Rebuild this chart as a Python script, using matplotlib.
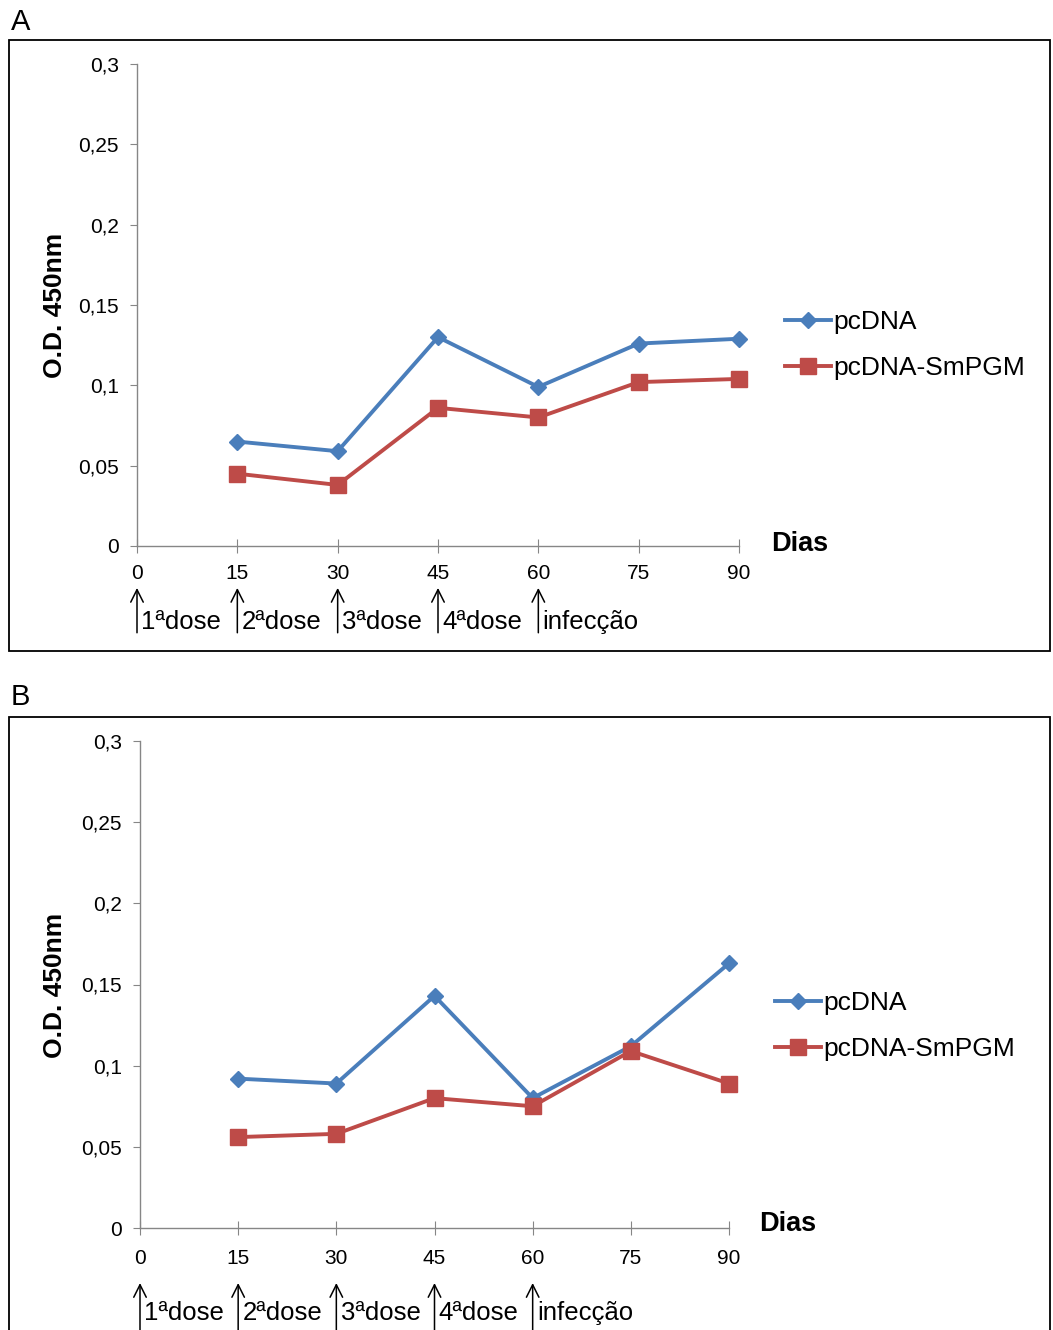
import matplotlib
matplotlib.use("Agg")
import matplotlib.pyplot as plt
from matplotlib.patches import Rectangle

plt.rcParams["font.family"] = ["Liberation Sans", "DejaVu Sans"]

dias = [15, 30, 45, 60, 75, 90]
x_ticks = [0, 15, 30, 45, 60, 75, 90]
y_ticks = [0, 0.05, 0.1, 0.15, 0.2, 0.25, 0.3]
y_tick_labels = ["0", "0,05", "0,1", "0,15", "0,2", "0,25", "0,3"]

# painel A
a_pcdna = [0.065, 0.059, 0.130, 0.099, 0.126, 0.129]
a_smpgm = [0.045, 0.038, 0.086, 0.080, 0.102, 0.104]
# painel B
b_pcdna = [0.092, 0.089, 0.143, 0.080, 0.112, 0.163]
b_smpgm = [0.056, 0.058, 0.080, 0.075, 0.109, 0.089]

event_days = [0, 15, 30, 45, 60]
event_labels = ["1ªdose", "2ªdose", "3ªdose", "4ªdose", "infecção"]

blue = "#4a7ebb"
red = "#be4b48"
gray = "#868686"

W, H = 1053, 1330
fig = plt.figure(figsize=(W / 100, H / 100), dpi=100)


def px(x, y):
    # pixel (from top-left) -> figure fraction
    return x / W, 1 - y / H


def panel(rect, pcdna, smpgm, letter, letter_xy, box, ylab_xy, dias_xy,
          leg_xy, arrow_top, arrow_bot, text_y, tick_pad):
    ax = fig.add_axes(rect)
    ax.plot(dias, pcdna, color=blue, lw=2.8, marker="D", ms=8.5,
            label="pcDNA", clip_on=False)
    ax.plot(dias, smpgm, color=red, lw=2.8, marker="s", ms=12,
            label="pcDNA-SmPGM", clip_on=False)
    ax.set_xlim(0, 90)
    ax.set_ylim(0, 0.3)
    ax.set_xticks(x_ticks)
    ax.set_yticks(y_ticks)
    ax.set_yticklabels(y_tick_labels)
    for s in ["top", "right"]:
        ax.spines[s].set_visible(False)
    for s in ["left", "bottom"]:
        ax.spines[s].set_color(gray)
        ax.spines[s].set_linewidth(1)
    ax.tick_params(axis="x", direction="inout", length=10, color=gray,
                   labelsize=15, pad=tick_pad)
    ax.tick_params(axis="y", direction="out", length=5, color=gray,
                   labelsize=15, pad=8)

    trans = ax.get_xaxis_transform()
    for d, lab in zip(event_days, event_labels):
        ax.annotate("", xy=(d, arrow_top), xytext=(d, arrow_bot),
                    xycoords=trans, textcoords=trans, annotation_clip=False,
                    arrowprops=dict(arrowstyle="->,head_length=0.9,head_width=0.45",
                                    color="black", lw=1.1,
                                    shrinkA=0, shrinkB=0))
        ax.annotate(lab, xy=(d, text_y), xycoords=trans, xytext=(3, 0),
                    textcoords="offset points", ha="left", va="center",
                    fontsize=18.5, annotation_clip=False)

    fig.text(*px(*letter_xy), letter, fontsize=21, ha="center", va="center")
    fig.text(*px(*ylab_xy), "O.D. 450nm", fontsize=19, fontweight="bold",
             rotation=90, ha="center", va="center")
    fig.text(*px(*dias_xy), "Dias", fontsize=19.5, fontweight="bold",
             ha="left", va="center")
    x0, y0 = px(box[0], box[3])
    x1, y1 = px(box[2], box[1])
    fig.patches.append(Rectangle((x0, y0), x1 - x0, y1 - y0, fill=False,
                                 edgecolor="black", lw=1.3,
                                 transform=fig.transFigure, figure=fig))
    ax.legend(loc="center left", bbox_to_anchor=px(*leg_xy),
              bbox_transform=fig.transFigure, frameon=False, fontsize=19,
              numpoints=1, handlelength=1.75, handletextpad=0.1,
              labelspacing=0.85, borderpad=0, borderaxespad=0)
    return ax


left, bottom = px(137, 546)
panel([left, bottom, (739 - 137) / W, 482 / H], a_pcdna, a_smpgm, "A",
      (21, 22), (9, 40, 1050, 651), (55, 305), (771, 544), (785, 345),
      -0.087, -0.18, -0.158, 8)

left, bottom = px(140, 1228)
panel([left, bottom, (729 - 140) / W, 487 / H], b_pcdna, b_smpgm, "B",
      (20, 697), (9, 717, 1050, 1340), (55, 985), (759, 1224), (775, 1026),
      -0.113, -0.215, -0.175, 10)

fig.savefig("out.png", dpi=100)
